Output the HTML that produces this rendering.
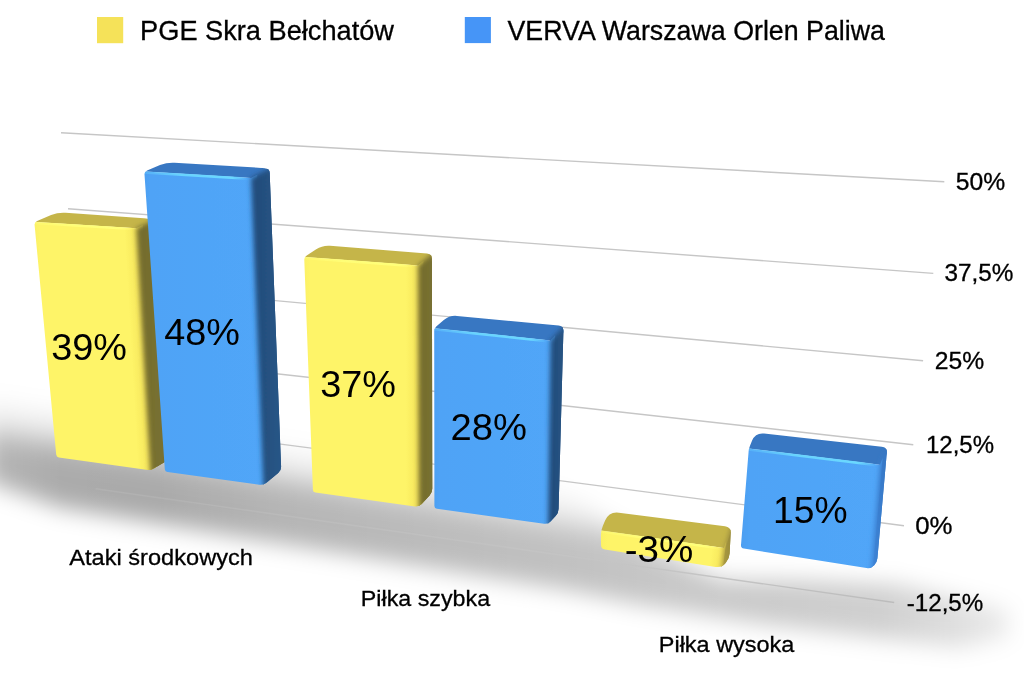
<!DOCTYPE html>
<html><head><meta charset="utf-8"><title>Chart</title>
<style>html,body{margin:0;padding:0;background:#fff;overflow:hidden}svg{display:block}text{font-family:"Liberation Sans",sans-serif;fill:#000;stroke:#000;stroke-width:0.3px}text.d{stroke:none}</style>
</head><body>
<svg width="1024" height="696" viewBox="0 0 1024 696">
<defs>
<filter id="soft" filterUnits="userSpaceOnUse" x="0" y="0" width="1024" height="696"><feGaussianBlur stdDeviation="2.6"/></filter>
<filter id="soft2" filterUnits="userSpaceOnUse" x="0" y="0" width="1024" height="696"><feGaussianBlur stdDeviation="0.7"/></filter>
<filter id="shb" filterUnits="userSpaceOnUse" x="-200" y="200" width="1500" height="700"><feGaussianBlur stdDeviation="11"/></filter>
<linearGradient id="shg" gradientUnits="userSpaceOnUse" x1="0" y1="395" x2="-15.6" y2="492.5">
<stop offset="0" stop-color="#000" stop-opacity="0"/><stop offset="0.3" stop-color="#000" stop-opacity="0.3"/><stop offset="0.46" stop-color="#000" stop-opacity="0.88"/><stop offset="0.58" stop-color="#000" stop-opacity="1"/><stop offset="1" stop-color="#000" stop-opacity="1"/></linearGradient>
<linearGradient id="mxg" gradientUnits="userSpaceOnUse" x1="0" y1="0" x2="1024" y2="0">
<stop offset="0" stop-color="#fff" stop-opacity="0.295"/><stop offset="0.06" stop-color="#fff" stop-opacity="0.33"/><stop offset="0.15" stop-color="#fff" stop-opacity="0.335"/><stop offset="0.28" stop-color="#fff" stop-opacity="0.29"/><stop offset="0.57" stop-color="#fff" stop-opacity="0.24"/><stop offset="0.66" stop-color="#fff" stop-opacity="0.215"/><stop offset="0.78" stop-color="#fff" stop-opacity="0.2"/><stop offset="0.86" stop-color="#fff" stop-opacity="0.185"/><stop offset="0.93" stop-color="#fff" stop-opacity="0.13"/><stop offset="1" stop-color="#fff" stop-opacity="0.06"/></linearGradient>
<linearGradient id="lg" gradientUnits="userSpaceOnUse" x1="95" y1="0" x2="895" y2="0"><stop offset="0" stop-color="#c8c8c8" stop-opacity="0.2"/><stop offset="0.5" stop-color="#c8c8c8" stop-opacity="0.4"/><stop offset="0.75" stop-color="#c2c2c2" stop-opacity="0.9"/><stop offset="1" stop-color="#bcbcbc" stop-opacity="1"/></linearGradient>
<mask id="mx" maskUnits="userSpaceOnUse" x="0" y="0" width="1024" height="696"><rect width="1024" height="696" fill="url(#mxg)"/></mask>
<linearGradient id="fb" x1="0" y1="0" x2="1" y2="0"><stop offset="0" stop-color="#4a9aec"/><stop offset="0.12" stop-color="#4fa3f6"/><stop offset="1" stop-color="#51a6f8"/></linearGradient>
<linearGradient id="fy" x1="0" y1="0" x2="1" y2="0"><stop offset="0" stop-color="#f8ec62"/><stop offset="0.12" stop-color="#fef467"/><stop offset="1" stop-color="#fef467"/></linearGradient>
<linearGradient id="rb" x1="0" y1="0" x2="1" y2="0"><stop offset="0" stop-color="#214a78"/><stop offset="1" stop-color="#295889"/></linearGradient>
<linearGradient id="rb3" x1="0" y1="0" x2="1" y2="0"><stop offset="0" stop-color="#3f88dc"/><stop offset="1" stop-color="#3472be"/></linearGradient>
<linearGradient id="ry3" x1="0" y1="0" x2="1" y2="0"><stop offset="0" stop-color="#b4a444"/><stop offset="1" stop-color="#857834"/></linearGradient>
<linearGradient id="ry" x1="0" y1="0" x2="1" y2="0"><stop offset="0" stop-color="#746c2e"/><stop offset="1" stop-color="#7a7231"/></linearGradient>
<clipPath id="cy1"><path d="M34.6,225.0 Q34.3,222.0 37.1,220.9 L51.1,215.1 Q58.0,212.3 65.5,212.8 L151.0,218.7 Q156.0,219.0 156.3,224.0 L169.8,455.0 Q170.0,459.0 166.5,461.0 L153.8,468.4 Q150.3,470.4 146.3,469.8 L58.9,457.4 Q56.4,457.0 56.2,454.5 Z"/></clipPath><linearGradient id="liy1" gradientUnits="userSpaceOnUse" x1="124.3" y1="229.0" x2="138.3" y2="228.2"><stop offset="0" stop-color="#c89c2c" stop-opacity="0"/><stop offset="0.5" stop-color="#c89c2c" stop-opacity="0.1"/><stop offset="1" stop-color="#c89c2c" stop-opacity="0.26"/></linearGradient><linearGradient id="hy1" gradientUnits="userSpaceOnUse" x1="34.3" y1="223.0" x2="133.3" y2="229.1"><stop offset="0" stop-color="#ffff78" stop-opacity="0.25"/><stop offset="0.35" stop-color="#ffff78" stop-opacity="0.9"/><stop offset="0.85" stop-color="#ffff78" stop-opacity="1"/><stop offset="1" stop-color="#ffff78" stop-opacity="0"/></linearGradient><clipPath id="cb1"><path d="M144.5,174.5 Q144.3,171.5 147.1,170.4 L160.0,165.1 Q167.0,162.3 174.5,162.7 L264.5,168.0 Q269.5,168.3 269.7,173.3 L281.1,466.6 Q281.3,470.6 278.2,473.1 L266.4,482.7 Q263.3,485.2 259.3,484.7 L167.5,472.0 Q165.0,471.7 164.8,469.2 Z"/></clipPath><linearGradient id="hb1" gradientUnits="userSpaceOnUse" x1="144.3" y1="172.5" x2="248.0" y2="178.8"><stop offset="0" stop-color="#6ad8ff" stop-opacity="0.25"/><stop offset="0.35" stop-color="#6ad8ff" stop-opacity="0.9"/><stop offset="0.85" stop-color="#6ad8ff" stop-opacity="1"/><stop offset="1" stop-color="#6ad8ff" stop-opacity="0"/></linearGradient><clipPath id="cy2"><path d="M304.3,260.0 Q304.2,257.0 306.7,255.4 L316.2,249.3 Q322.5,245.2 330.0,245.8 L426.9,253.4 Q431.9,253.8 431.9,258.8 L432.3,488.5 Q432.3,492.5 429.6,495.4 L421.7,504.0 Q419.0,506.9 415.0,506.4 L315.5,492.6 Q313.0,492.3 312.9,489.8 Z"/></clipPath><linearGradient id="liy2" gradientUnits="userSpaceOnUse" x1="406.0" y1="265.4" x2="420.0" y2="265.4"><stop offset="0" stop-color="#c89c2c" stop-opacity="0"/><stop offset="0.5" stop-color="#c89c2c" stop-opacity="0.1"/><stop offset="1" stop-color="#c89c2c" stop-opacity="0.26"/></linearGradient><linearGradient id="hy2" gradientUnits="userSpaceOnUse" x1="304.2" y1="258.0" x2="415.0" y2="266.2"><stop offset="0" stop-color="#ffff78" stop-opacity="0.25"/><stop offset="0.35" stop-color="#ffff78" stop-opacity="0.9"/><stop offset="0.85" stop-color="#ffff78" stop-opacity="1"/><stop offset="1" stop-color="#ffff78" stop-opacity="0"/></linearGradient><clipPath id="cb2"><path d="M434.2,331.3 Q434.2,328.3 436.5,326.3 L443.8,320.1 Q449.5,315.2 457.0,315.9 L558.5,325.5 Q563.5,326.0 563.4,331.0 L558.6,508.8 Q558.5,512.8 555.8,515.8 L550.7,521.3 Q548.0,524.3 544.0,523.7 L436.9,508.7 Q434.4,508.4 434.4,505.9 Z"/></clipPath><linearGradient id="hb2" gradientUnits="userSpaceOnUse" x1="434.2" y1="329.3" x2="547.5" y2="341.2"><stop offset="0" stop-color="#6ad8ff" stop-opacity="0.25"/><stop offset="0.35" stop-color="#6ad8ff" stop-opacity="0.9"/><stop offset="0.85" stop-color="#6ad8ff" stop-opacity="1"/><stop offset="1" stop-color="#6ad8ff" stop-opacity="0"/></linearGradient><clipPath id="cy3"><path d="M600.9,535.5 Q600.8,530.5 602.8,525.9 L605.1,520.6 Q609.0,511.4 618.9,512.7 L725.0,526.2 Q731.0,527.0 730.7,533.0 L729.6,553.5 Q729.3,558.5 726.1,562.3 L725.4,563.2 Q721.5,567.8 715.6,566.9 L605.0,549.6 Q601.0,549.0 601.0,545.0 Z"/></clipPath><linearGradient id="liy3" gradientUnits="userSpaceOnUse" x1="712.1" y1="546.5" x2="726.0" y2="548.3"><stop offset="0" stop-color="#c89c2c" stop-opacity="0"/><stop offset="0.5" stop-color="#c89c2c" stop-opacity="0.1"/><stop offset="1" stop-color="#c89c2c" stop-opacity="0.26"/></linearGradient><linearGradient id="hy3" gradientUnits="userSpaceOnUse" x1="600.8" y1="531.5" x2="721.0" y2="548.6"><stop offset="0" stop-color="#ffff78" stop-opacity="0.25"/><stop offset="0.35" stop-color="#ffff78" stop-opacity="0.9"/><stop offset="0.85" stop-color="#ffff78" stop-opacity="1"/><stop offset="1" stop-color="#ffff78" stop-opacity="0"/></linearGradient><clipPath id="cb3"><path d="M748.6,451.5 Q748.8,448.5 750.0,445.7 L752.1,440.5 Q755.5,432.5 764.1,433.5 L881.8,446.7 Q887.3,447.3 886.8,452.8 L877.4,558.3 Q877.0,562.3 874.2,565.2 L873.9,565.5 Q870.8,568.8 866.4,568.1 L743.8,548.6 Q740.8,548.1 741.0,545.1 Z"/></clipPath><linearGradient id="hb3" gradientUnits="userSpaceOnUse" x1="748.8" y1="449.5" x2="877.0" y2="465.3"><stop offset="0" stop-color="#6ad8ff" stop-opacity="0.25"/><stop offset="0.35" stop-color="#6ad8ff" stop-opacity="0.9"/><stop offset="0.85" stop-color="#6ad8ff" stop-opacity="1"/><stop offset="1" stop-color="#6ad8ff" stop-opacity="0"/></linearGradient>
</defs>
<rect width="1024" height="696" fill="#fff"/>
<g mask="url(#mx)"><polygon points="-14.0,373.8 45.0,399.2 560.0,485.6 640.0,542.4 720.0,579.2 800.0,580.0 900.0,584.0 1010.0,609.6 1010.0,637.6 960.0,647.6 760.0,623.6 640.0,604.4 560.0,588.6 60.0,507.6 -14.0,481.8" fill="url(#shg)" filter="url(#shb)"/></g>
<g stroke="#c6c6c6" stroke-width="1.4" fill="none"><line x1="61" y1="132.8" x2="944.3" y2="181.8"/><line x1="68" y1="208.8" x2="933.3" y2="273.4"/><line x1="75" y1="282" x2="923.1" y2="360.8"/><line x1="82" y1="352" x2="913.3" y2="444.7"/><line x1="89" y1="419" x2="904" y2="525.7"/></g><line x1="95.7" y1="488.7" x2="894.2" y2="602.5" stroke="url(#lg)" stroke-width="1.4"/>
<rect x="97" y="17" width="26.2" height="26.2" fill="#f5e259"/>
<rect x="464.8" y="17" width="26.1" height="26.1" fill="#4695f7"/>
<g clip-path="url(#cy1)"><polygon points="136.3,228.3 165.0,214.7 174.8,467.8 150.9,480.4" fill="url(#ry)" stroke="#756d2e" stroke-width="1"/><g filter="url(#soft2)"><polygon points="24.3,221.4 48.6,200.9 165.4,221.7 136.7,235.3 136.3,228.3" fill="#c5b54a"/><polygon points="24.3,221.4 136.3,228.3 142.6,225.3 157.2,477.4 52.6,466.3" fill="url(#fy)"/><polygon points="136.3,228.3 142.6,225.3 157.2,477.4 137.9,481.1 123.3,229.1" fill="url(#liy1)"/></g><line x1="34.3" y1="223.0" x2="133.3" y2="229.1" stroke="url(#hy1)" stroke-width="2.4" filter="url(#soft2)"/><g filter="url(#soft)"><polygon points="136.3,228.3 165.0,214.7 174.8,467.8 150.9,480.4" fill="url(#ry)"/></g></g><g clip-path="url(#cb1)"><polygon points="251.0,178.0 278.4,163.7 285.4,479.7 263.7,495.2" fill="url(#rb)" stroke="#244f80" stroke-width="1"/><g filter="url(#soft2)"><polygon points="134.3,170.9 158.1,150.7 278.6,170.7 251.3,185.0 251.0,178.0" fill="#3877c2"/><polygon points="134.3,170.9 251.0,178.0 257.2,174.7 269.9,491.9 161.8,481.2" fill="url(#fb)"/></g><line x1="144.3" y1="172.5" x2="248.0" y2="178.8" stroke="url(#hb1)" stroke-width="2.4" filter="url(#soft2)"/><g filter="url(#soft)"><polygon points="251.0,178.0 278.4,163.7 285.4,479.7 263.7,495.2" fill="url(#rb)"/></g></g><g clip-path="url(#cy2)"><polygon points="418.0,265.4 439.6,247.4 436.9,501.4 419.0,516.9" fill="url(#ry)" stroke="#756d2e" stroke-width="1"/><g filter="url(#soft2)"><polygon points="294.2,256.3 313.0,233.8 439.6,254.4 418.0,272.4 418.0,265.4" fill="#c5b54a"/><polygon points="294.2,256.3 418.0,265.4 423.4,260.9 424.4,512.4 308.6,501.3" fill="url(#fy)"/><polygon points="418.0,265.4 423.4,260.9 424.4,512.4 406.0,517.0 405.0,265.5" fill="url(#liy2)"/></g><line x1="304.2" y1="258.0" x2="415.0" y2="266.2" stroke="url(#hy2)" stroke-width="2.4" filter="url(#soft2)"/><g filter="url(#soft)"><polygon points="418.0,265.4 439.6,247.4 436.9,501.4 419.0,516.9" fill="url(#ry)"/></g></g><g clip-path="url(#cb2)"><polygon points="550.5,340.5 570.2,318.6 563.9,521.2 547.9,534.3" fill="url(#rb)" stroke="#244f80" stroke-width="1"/><g filter="url(#soft2)"><polygon points="424.3,327.3 439.3,304.1 570.1,325.6 550.4,347.5 550.5,340.5" fill="#3877c2"/><polygon points="424.3,327.3 550.5,340.5 555.2,335.3 552.5,529.1 428.6,516.5" fill="url(#fb)"/></g><line x1="434.2" y1="329.3" x2="547.5" y2="341.2" stroke="url(#hb2)" stroke-width="2.4" filter="url(#soft2)"/><g filter="url(#soft)"><polygon points="550.5,340.5 570.2,318.6 563.9,521.2 547.9,534.3" fill="url(#rb)"/></g></g><g clip-path="url(#cy3)"><polygon points="724.0,548.0 734.2,517.5 738.9,561.2 720.2,577.7" fill="url(#ry3)" stroke="#756d2e" stroke-width="1"/><g filter="url(#soft2)"><polygon points="590.9,529.1 594.1,504.8 733.3,524.5 723.1,554.9 724.0,548.0" fill="#c5b54a"/><polygon points="590.9,529.1 724.0,548.0 726.2,541.4 722.5,571.1 591.1,550.3" fill="url(#fy)"/><polygon points="724.0,548.0 726.2,541.4 722.5,571.1 707.3,576.1 711.1,546.4" fill="url(#liy3)"/></g><line x1="600.8" y1="531.5" x2="721.0" y2="548.6" stroke="url(#hy3)" stroke-width="2.4" filter="url(#soft2)"/><g filter="url(#soft)"><polygon points="724.0,548.0 734.2,517.5 738.9,561.2 720.2,577.7" fill="url(#ry3)"/></g></g><g clip-path="url(#cb3)"><polygon points="880.0,464.7 891.2,438.1 884.2,569.2 869.9,578.8" fill="url(#rb3)" stroke="#244f80" stroke-width="1"/><g filter="url(#soft2)"><polygon points="738.9,447.3 743.1,422.8 890.6,445.1 879.4,471.7 880.0,464.7" fill="#3877c2"/><polygon points="738.9,447.3 880.0,464.7 882.7,458.2 872.6,572.3 732.4,553.5" fill="url(#fb)"/></g><line x1="748.8" y1="449.5" x2="877.0" y2="465.3" stroke="url(#hb3)" stroke-width="2.4" filter="url(#soft2)"/><g filter="url(#soft)"><polygon points="880.0,464.7 891.2,438.1 884.2,569.2 869.9,578.8" fill="url(#rb3)"/></g></g>
<text x="140.1" y="39.8" font-size="27.5" textLength="253.9" lengthAdjust="spacingAndGlyphs">PGE Skra Bełchatów</text><text x="507.5" y="39.8" font-size="27.5" textLength="377.4" lengthAdjust="spacingAndGlyphs">VERVA Warszawa Orlen Paliwa</text><text x="69.3" y="565.0" font-size="22.8" textLength="183.6" lengthAdjust="spacingAndGlyphs">Ataki środkowych</text><text x="360.8" y="605.5" font-size="22.8" textLength="129.3" lengthAdjust="spacingAndGlyphs">Piłka szybka</text><text x="658.8" y="652.0" font-size="22.8" textLength="135.6" lengthAdjust="spacingAndGlyphs">Piłka wysoka</text><text class="d" x="51.3" y="359.9" font-size="36.5" textLength="75.7" lengthAdjust="spacingAndGlyphs">39%</text><text class="d" x="164.3" y="345.1" font-size="36.5" textLength="75.7" lengthAdjust="spacingAndGlyphs">48%</text><text class="d" x="320.2" y="397.1" font-size="36.5" textLength="75.8" lengthAdjust="spacingAndGlyphs">37%</text><text class="d" x="450.6" y="440.4" font-size="36.5" textLength="76.4" lengthAdjust="spacingAndGlyphs">28%</text><text class="d" x="624.7" y="562.1" font-size="36.5" textLength="68.6" lengthAdjust="spacingAndGlyphs">-3%</text><text class="d" x="773.0" y="522.8" font-size="36.5" textLength="74.5" lengthAdjust="spacingAndGlyphs">15%</text><text x="955.8" y="190.0" font-size="23" textLength="49.4" lengthAdjust="spacingAndGlyphs">50%</text><text x="944.5" y="281.0" font-size="23" textLength="69.0" lengthAdjust="spacingAndGlyphs">37,5%</text><text x="934.8" y="369.1" font-size="23" textLength="49.4" lengthAdjust="spacingAndGlyphs">25%</text><text x="926.0" y="453.4" font-size="23" textLength="68.0" lengthAdjust="spacingAndGlyphs">12,5%</text><text x="915.2" y="534.2" font-size="23" textLength="37.3" lengthAdjust="spacingAndGlyphs">0%</text><text x="906.7" y="610.9" font-size="23" textLength="76.6" lengthAdjust="spacingAndGlyphs">-12,5%</text>
</svg>
</body></html>
